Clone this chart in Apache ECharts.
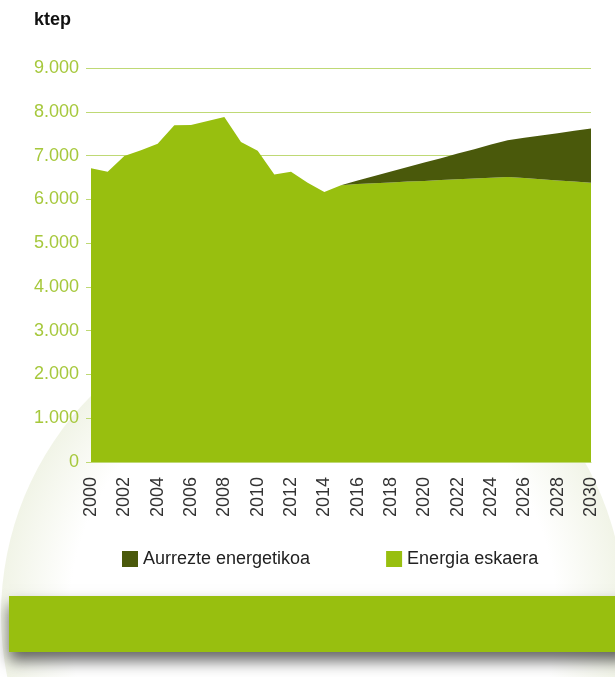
<!DOCTYPE html>
<html><head><meta charset="utf-8">
<script src="https://cdn.jsdelivr.net/npm/echarts@6/dist/echarts.min.js"></script>
<style>html,body{margin:0;padding:0;background:#fff}#c{width:615px;height:677px}</style>
</head><body><div id="c"></div>
<script>
var years = [];
for (var y = 2000; y <= 2030; y++) years.push(String(y));
// Energia eskaera (ktep)
var eskaera = [6710, 6630, 6990, 7120, 7270, 7690, 7700, 7790, 7880, 7310, 7110, 6570, 6630, 6380, 6170, 6320,
  6350, 6370, 6385, 6405, 6420, 6440, 6460, 6475, 6495, 6510, 6485, 6460, 6430, 6405, 6380];
// Aurrezte energetikoa (ktep), stacked on top
var aurrezte = ['-', '-', '-', '-', '-', '-', '-', '-', '-', '-', '-', '-', '-', '-', '-', 0,
  80, 165, 250, 335, 420, 500, 585, 670, 755, 840, 920, 1000, 1080, 1160, 1240];
var yTicks = [0, 1000, 2000, 3000, 4000, 5000, 6000, 7000, 8000, 9000];

var LIGHT = '#98bf0f', DARK = '#4a590b', GRID = '#bfd975', LBL = '#a6c83c';
var FONT = '"Liberation Sans", Arial, sans-serif';
var chart = echarts.init(document.getElementById('c'), null, {renderer: 'canvas'});
function fmt(v){ return String(v).replace(/\B(?=(\d{3})+(?!\d))/g, '.'); }
chart.setOption({
  animation: false,
  backgroundColor: '#fff',
  graphic: [
    {type: 'circle', z: -10, shape: {cx: 313, cy: 615, r: 312},
     style: {fill: new echarts.graphic.RadialGradient(0.5, 0.5, 0.5, [
       {offset: 0, color: '#ffffff'}, {offset: 0.78, color: '#ffffff'}, {offset: 1, color: '#f1f4e7'}])}},
    {type: 'rect', z: 10, shape: {x: 9, y: 596, width: 620, height: 56},
     style: {fill: LIGHT, shadowBlur: 14, shadowColor: 'rgba(0,0,0,0.6)', shadowOffsetY: 9}},
    {type: 'text', left: 34, top: 11, style: {text: 'ktep', fill: '#111', font: 'bold 18px ' + FONT}}
  ],
  legend: {
    bottom: 104, left: 117, itemGap: 76, itemWidth: 16, itemHeight: 16,
    icon: 'rect',
    data: ['Aurrezte energetikoa', 'Energia eskaera'],
    textStyle: {fontSize: 18, color: '#222', fontFamily: FONT}
  },
  grid: {left: 91, right: 24, top: 68, bottom: 215},
  xAxis: {
    type: 'category', data: years, boundaryGap: false,
    axisLine: {lineStyle: {color: GRID}}, axisTick: {show: false},
    axisLabel: {interval: 1, rotate: 90, margin: 15, fontSize: 18, color: '#333', fontFamily: FONT}
  },
  yAxis: {
    type: 'value', min: 0, max: 9000, interval: 1000,
    axisLine: {show: false},
    axisTick: {show: true, length: 5, lineStyle: {color: GRID}},
    splitLine: {lineStyle: {color: GRID, width: 1}},
    axisLabel: {margin: 12, fontSize: 18, color: LBL, formatter: fmt, fontFamily: FONT}
  },
  series: [
    {name: 'Energia eskaera', type: 'line', stack: 'tot', data: eskaera, symbol: 'none',
     lineStyle: {width: 0}, itemStyle: {color: LIGHT}, areaStyle: {color: LIGHT, opacity: 1}},
    {name: 'Aurrezte energetikoa', type: 'line', stack: 'tot', data: aurrezte, symbol: 'none',
     lineStyle: {width: 0}, itemStyle: {color: DARK}, areaStyle: {color: DARK, opacity: 1}}
  ]
});
</script></body></html>
